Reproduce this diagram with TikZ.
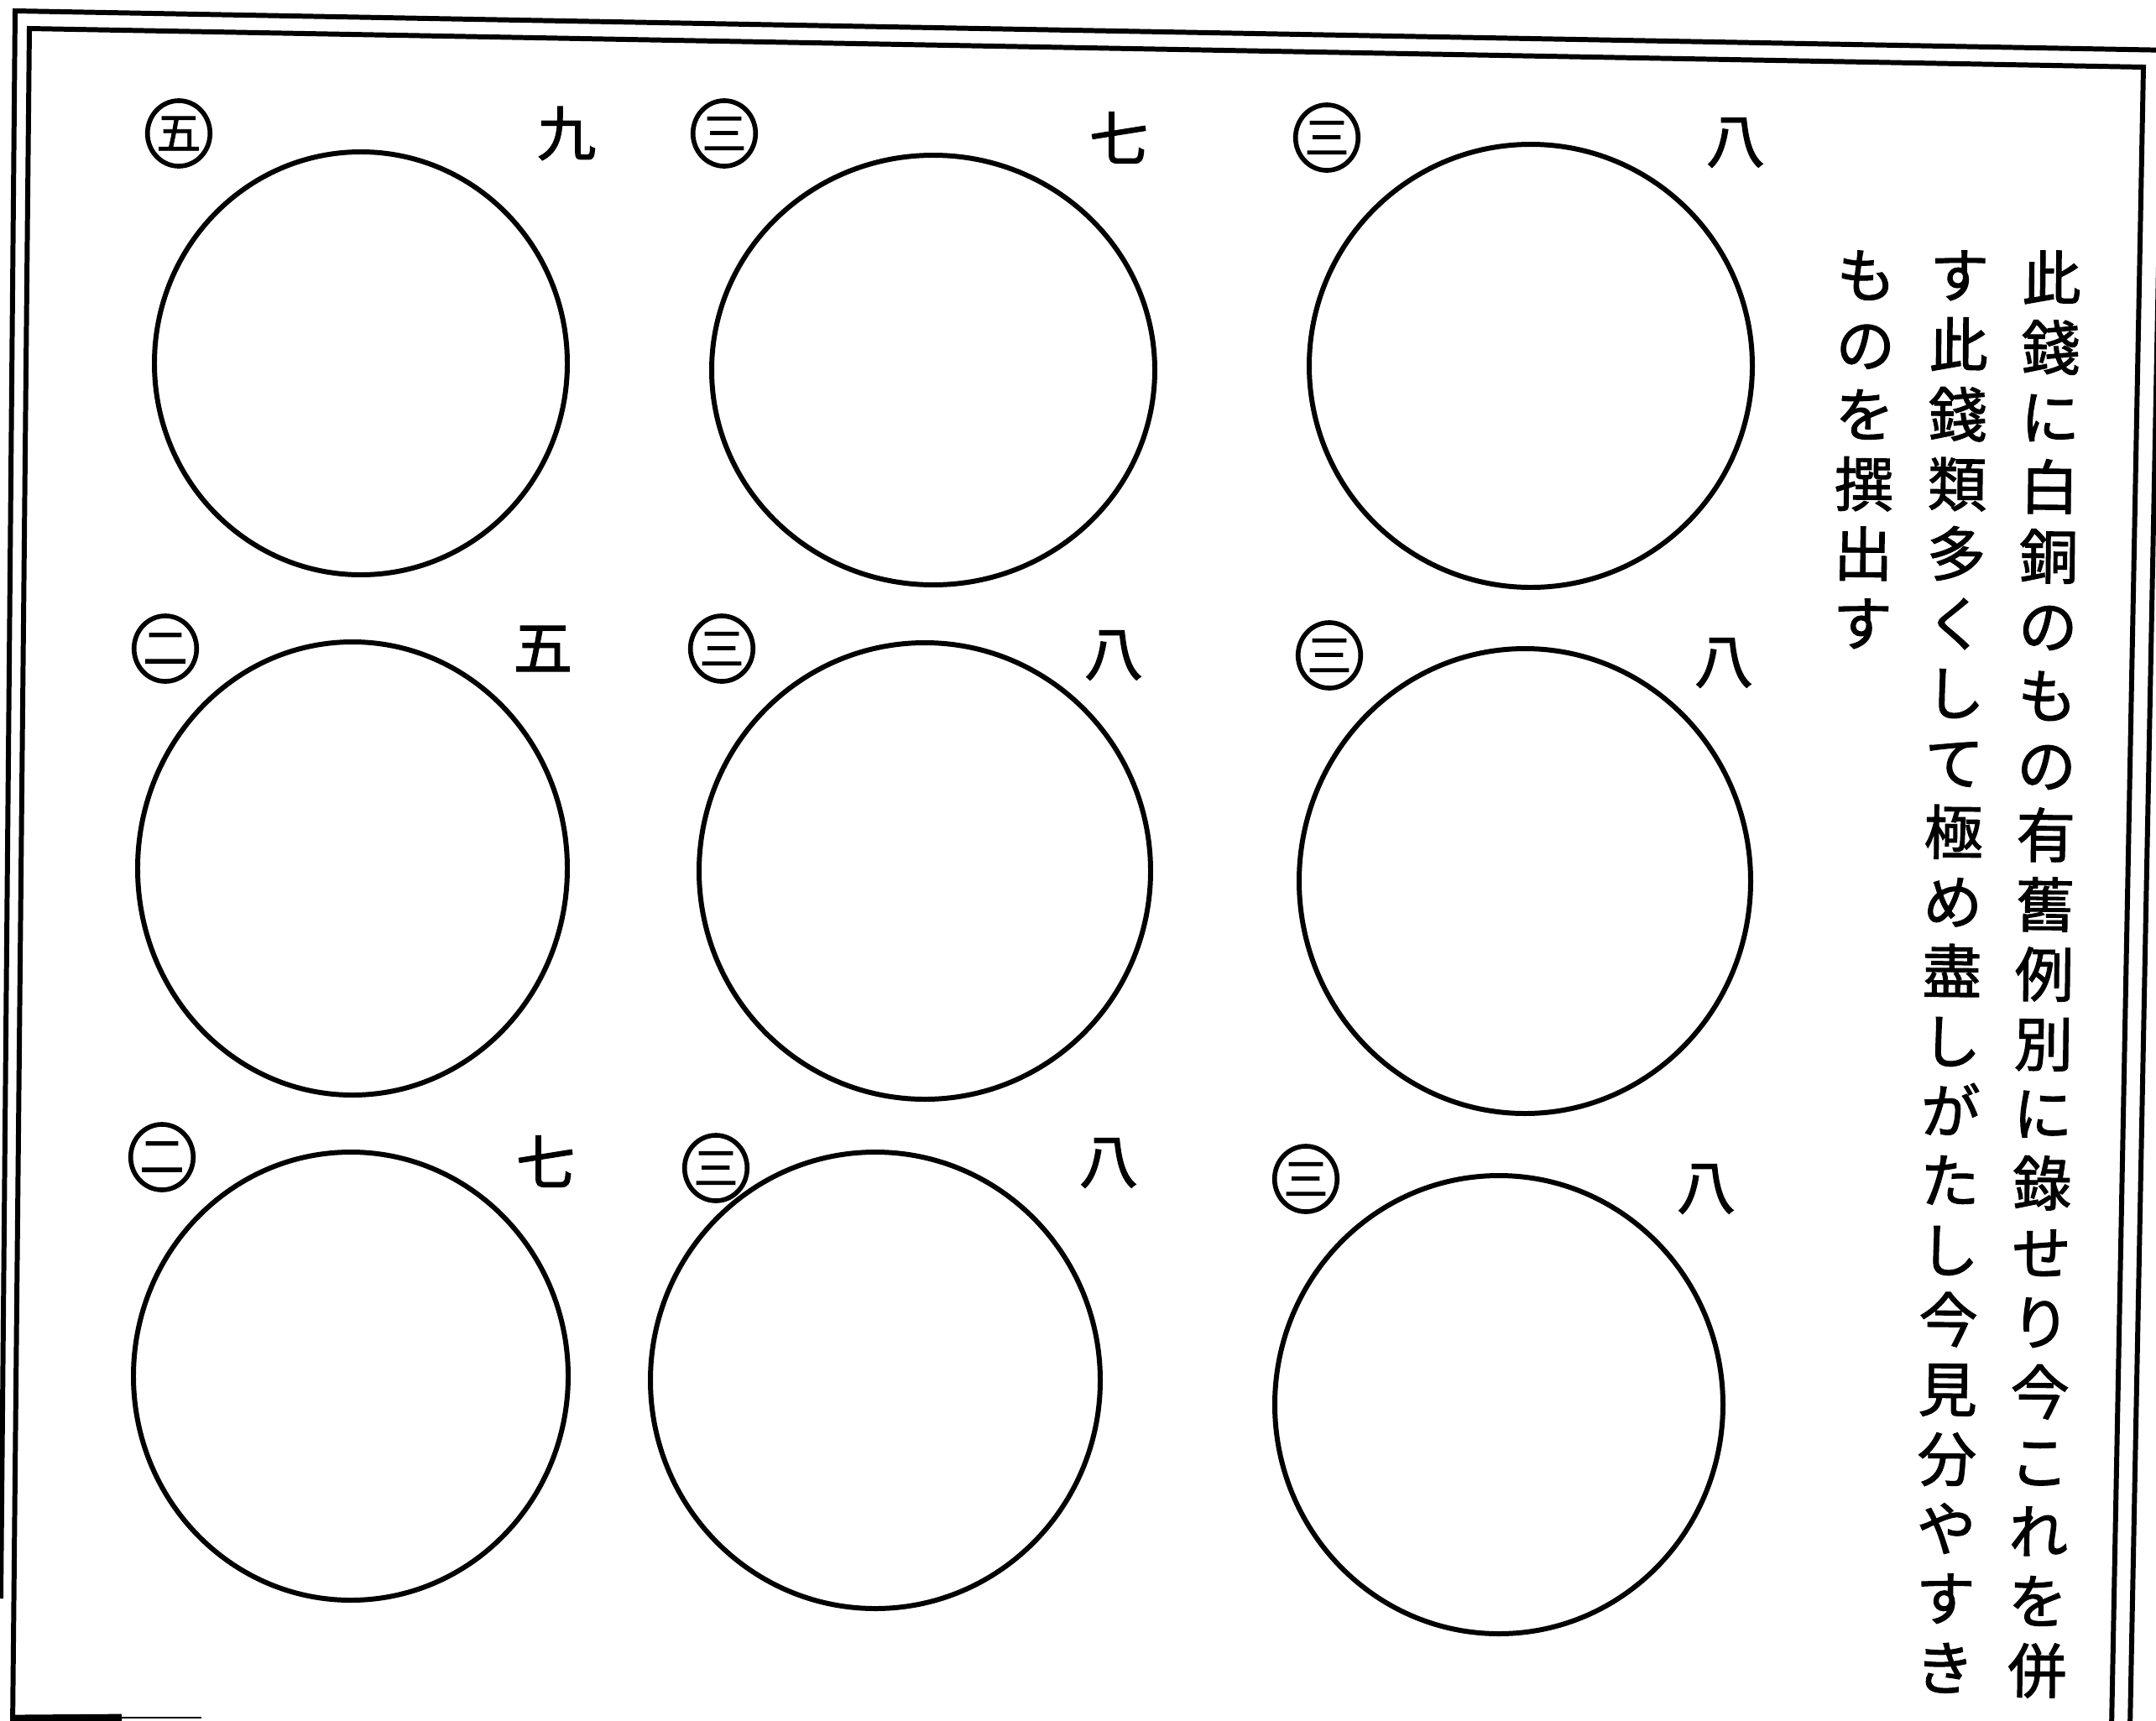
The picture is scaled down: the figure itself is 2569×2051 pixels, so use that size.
\documentclass[tikz,border=0pt]{standalone}
\usepackage{fontspec}
\newfontfamily\cjk{Noto Sans CJK JP}
\newfontfamily\cjkb[FakeBold=1.6]{Noto Sans CJK JP}
\usetikzlibrary{shapes.geometric}
\begin{document}
\begin{tikzpicture}[x=0.01cm,y=-0.01cm,
  frameline/.style={line width=1.7pt},
  coin/.style={line width=1.7pt},
  tagc/.style={draw, ellipse, line width=1.6pt, minimum width=0.74cm, minimum height=0.78cm, inner sep=0pt,
    font=\cjkb\fontsize{15pt}{15pt}\selectfont},
  numl/.style={inner sep=0pt, font=\cjkb\fontsize{20pt}{20pt}\selectfont},
  textcol/.style={align=center, anchor=north, inner sep=0pt, rotate=-0.6,
    font=\cjkb\fontsize{20pt}{23.6pt}\selectfont}]
\useasboundingbox (0,0) rectangle (2569,2051);
\clip (0,0) rectangle (2569,2051);
\fill[white] (0,0) rectangle (2569,2051);
% frame
\coordinate (otl) at (18,13);
\coordinate (otr) at (2590,60);
\coordinate (obl) at (1,1905);
\coordinate (itl) at (35,34);
\coordinate (itr) at (2554,80);
\coordinate (ibl) at (15,2060);
\coordinate (ibr) at (2516,2060);
\coordinate (orb) at (2538,2060);
\coordinate (ort) at (2577,60);
\coordinate (bl1) at (13,2048);
\coordinate (bl2) at (145,2047);
\coordinate (bl3) at (240,2047);
\draw[frameline] (obl) -- (otl) -- (otr);
\draw[frameline] (ort) -- (orb);
\draw[frameline] (ibl) -- (itl) -- (itr) -- (ibr);
\draw[line width=2.5pt] (bl1) -- (bl2);
\draw[line width=0.6pt] (bl2) -- (bl3);
% coins
\draw[coin] (430,433) ellipse [x radius=246, y radius=252];
\draw[coin] (1112,441) ellipse [x radius=264, y radius=256];
\draw[coin] (1824,436) ellipse [x radius=264, y radius=264];
\draw[coin] (420,1035) ellipse [x radius=256, y radius=270];
\draw[coin] (1102,1038) ellipse [x radius=269, y radius=272];
\draw[coin] (1817,1050) ellipse [x radius=269, y radius=277];
\draw[coin] (418,1640) ellipse [x radius=259, y radius=267];
\draw[coin] (1043,1645) ellipse [x radius=268, y radius=272];
\draw[coin] (1786,1674) ellipse [x radius=267, y radius=273];
% circled labels
\node[tagc] (t1) at (213,159) {五};
\node[tagc] (t2) at (863,159) {三};
\node[tagc] (t3) at (1581,164) {三};
\node[tagc] (t4) at (197,773) {二};
\node[tagc] (t5) at (860,773) {三};
\node[tagc] (t6) at (1584,781) {三};
\node[tagc] (t7) at (193,1379) {二};
\node[tagc] (t8) at (853,1392) {三};
\node[tagc] (t9) at (1556,1405) {三};
% numbers
\node[numl] (n1) at (675,159) {九};
\node[numl] (n2) at (1333,164) {七};
\node[numl] (n3) at (2068,170) {八};
\node[numl] (n4) at (647,773) {五};
\node[numl] (n5) at (1327,781) {八};
\node[numl] (n6) at (2054,790) {八};
\node[numl] (n7) at (650,1384) {七};
\node[numl] (n8) at (1321,1386) {八};
\node[numl] (n9) at (2033,1417) {八};
% vertical text
\node[textcol] (col1) at (2445,298) {此\\錢\\に\\白\\銅\\の\\も\\の\\有\\舊\\例\\別\\に\\錄\\せ\\り\\今\\こ\\れ\\を\\併};
\node[textcol] (col2) at (2335,298) {す\\此\\錢\\類\\多\\く\\し\\て\\極\\め\\盡\\し\\が\\た\\し\\今\\見\\分\\や\\す\\き};
\node[textcol] (col3) at (2224,298) {も\\の\\を\\撰\\出\\す};
\end{tikzpicture}
\end{document}
